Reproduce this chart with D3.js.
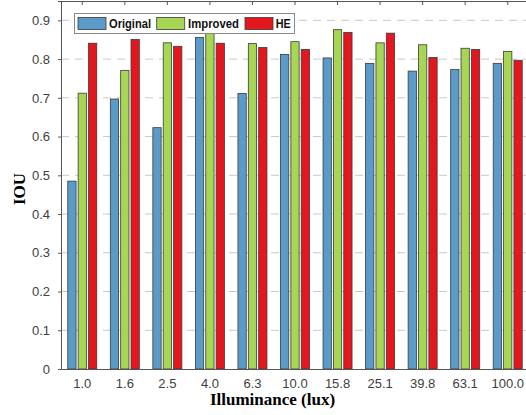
<!DOCTYPE html>
<html><head><meta charset="utf-8">
<script src="https://cdn.jsdelivr.net/npm/d3@7"></script>
<style>body{margin:0;background:#fff;}svg{display:block;}</style>
</head><body>
<script>
const categories = ["1.0","1.6","2.5","4.0","6.3","10.0","15.8","25.1","39.8","63.1","100.0"];
const seriesNames = ["Original","Improved","HE"];
const original = [0.485,0.697,0.623,0.856,0.711,0.812,0.803,0.789,0.769,0.773,0.789];
const improved = [0.712,0.771,0.842,0.866,0.840,0.845,0.876,0.842,0.837,0.828,0.820];
const he       = [0.841,0.851,0.833,0.841,0.830,0.825,0.869,0.867,0.804,0.825,0.797];
const yTicks = [0,0.1,0.2,0.3,0.4,0.5,0.6,0.7,0.8,0.9];
const colors = ["#5b9bc9","#a6d653","#e3171d"];
const series = [original, improved, he];

const W=526,H=415;
const L=61,R=529,T=1,B=369;
const svg=d3.select("body").append("svg").attr("width",W).attr("height",H);
const x=d3.scaleBand().domain(categories).range([L,R]).padding(0);
const y=d3.scaleLinear().domain([0,0.95]).range([B,T]);
const sub=d3.scaleBand().domain(seriesNames).range([-14.5,14.5]).paddingInner(0.2);

// grid
svg.append("g").selectAll("line").data(yTicks.filter(d=>d>0)).join("line")
 .attr("x1",L).attr("x2",R).attr("y1",d=>y(d)).attr("y2",d=>y(d))
 .attr("stroke","#c8c8c8").attr("stroke-width",1).attr("stroke-dasharray","8,6");

// bars
seriesNames.forEach((s,i)=>{
  svg.append("g").selectAll("rect").data(series[i]).join("rect")
   .attr("x",(d,j)=>x(categories[j])+x.bandwidth()/2+sub(s))
   .attr("width",sub.bandwidth())
   .attr("y",d=>y(d)).attr("height",d=>B-y(d))
   .attr("fill",colors[i]).attr("stroke","#3a3a3a").attr("stroke-width",0.8);
});

// axes
const yAxis=svg.append("g").attr("transform",`translate(${L},0)`)
 .call(d3.axisLeft(y).tickValues(yTicks).tickFormat(d=>d===0?"0":d3.format(".1f")(d)).tickSize(3).tickPadding(8));
yAxis.select(".domain").attr("stroke","#555");
yAxis.selectAll(".tick line").attr("stroke","#555");
yAxis.selectAll("text").attr("font-family","Arial, 'Liberation Sans', sans-serif").attr("font-size",13).attr("fill","#404040");

const xAxis=svg.append("g").attr("transform",`translate(0,${B})`)
 .call(d3.axisBottom(x).tickSize(0).tickPadding(10));
xAxis.select(".domain").attr("stroke","#555");
xAxis.selectAll("text").attr("font-family","Arial, 'Liberation Sans', sans-serif").attr("font-size",13).attr("fill","#404040");

// top frame + top ticks
svg.append("line").attr("x1",L).attr("x2",R).attr("y1",T+0.5).attr("y2",T+0.5).attr("stroke","#555");
svg.append("g").selectAll("line").data(categories).join("line")
 .attr("x1",d=>x(d)+x.bandwidth()/2).attr("x2",d=>x(d)+x.bandwidth()/2)
 .attr("y1",T).attr("y2",T+4).attr("stroke","#555");

// axis labels
svg.append("text").attr("x",272.5).attr("y",405).attr("text-anchor","middle")
 .attr("font-family","'Liberation Serif','Times New Roman',serif").attr("font-weight","bold").attr("font-size",17)
 .text("Illuminance (lux)");
svg.append("text").attr("transform","translate(25,189) rotate(-90)").attr("text-anchor","middle")
 .attr("font-family","'Liberation Serif','Times New Roman',serif").attr("font-weight","bold").attr("font-size",17)
 .text("IOU");

// legend
const lg=svg.append("g");
lg.append("rect").attr("x",74.5).attr("y",13.5).attr("width",220).attr("height",20)
 .attr("fill","#fff").attr("stroke","#888");
const lx=[78,156.7,245], tx=[109,188,275.7], tl=[42,51,15];
seriesNames.forEach((s,i)=>{
  lg.append("rect").attr("x",lx[i]).attr("y",17.5).attr("width",28).attr("height",12)
   .attr("fill",colors[i]).attr("stroke","#3a3a3a").attr("stroke-width",0.8);
  lg.append("text").attr("x",tx[i]).attr("y",28).attr("font-family","Arial, 'Liberation Sans', sans-serif")
   .attr("font-weight","bold").attr("font-size",12).attr("fill","#111")
   .attr("textLength",tl[i]).attr("lengthAdjust","spacingAndGlyphs").text(s);
});
</script>
</body></html>
